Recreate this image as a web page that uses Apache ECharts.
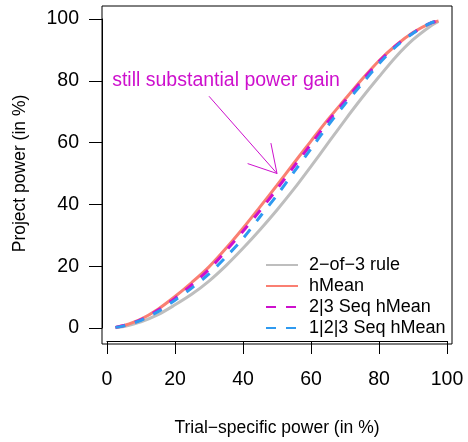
<!DOCTYPE html>
<html><head><meta charset="utf-8">
<script src="https://cdn.jsdelivr.net/npm/echarts@6/dist/echarts.min.js"></script>
<style>html,body{margin:0;padding:0;background:#fff}#c{width:468px;height:442px}</style>
</head><body><div id="c"></div>
<script>
const trialPower = [2.5, 5, 10, 15, 20, 25, 30, 35, 40, 45, 50, 55, 60, 65, 70, 75, 80, 85, 90, 95, 97.5];
const rule2of3   = [0.1, 0.5, 2.0, 4.3, 7.5, 11.0, 15.2, 20.2, 25.8, 31.8, 38.2, 45.0, 52.3, 59.8, 67.3, 74.5, 81.3, 87.8, 93.3, 97.6, 99.2];
const hMean      = [0.2, 0.8, 2.9, 6.1, 10.2, 14.8, 19.8, 25.8, 32.3, 39.2, 46.2, 53.4, 60.5, 67.5, 74.0, 80.5, 86.5, 91.5, 95.6, 98.6, 99.4];
const seq23      = [0.2, 0.8, 2.7, 5.8, 9.6, 14.0, 19.0, 25.0, 31.3, 38.0, 45.0, 52.3, 59.5, 66.8, 73.5, 80.0, 86.2, 91.4, 95.5, 98.6, 99.4];
const seq123     = [0.2, 0.7, 2.5, 5.3, 9.0, 13.0, 17.5, 23.0, 29.0, 36.0, 43.0, 50.5, 58.0, 65.5, 72.5, 79.0, 85.5, 91.1, 95.4, 98.6, 99.4];
const seriesNames = ['2\u2212of\u22123 rule', 'hMean', '2|3 Seq hMean', '1|2|3 Seq hMean'];
const xTicks = [0, 20, 40, 60, 80, 100];
const yTicks = [0, 20, 40, 60, 80, 100];
const xTitle = 'Trial\u2212specific power (in %)';
const yTitle = 'Project power (in %)';
const annotText = 'still substantial power gain';
const annotTextAt = [35, 80];
const arrowFrom = [30, 75];
const arrowTo = [50, 50];

const FONT = '"Liberation Sans", Arial, Helvetica, sans-serif';
const pairs = ys => trialPower.map((x, i) => [x, ys[i]]);

const chart = echarts.init(document.getElementById('c'), null, {renderer: 'canvas'});

function lineSeries(name, ys, color, dashed) {
  return {
    type: 'line', name, data: pairs(ys), xAxisIndex: 0, yAxisIndex: 0,
    smooth: 0.3, showSymbol: false, symbol: 'none', silent: true,
    lineStyle: {color, width: 3, type: dashed ? [10, 10] : 'solid', cap: 'butt'},
    itemStyle: {color}
  };
}

const axisCommon = {
  axisLine: {show: true, onZero: false, lineStyle: {color: '#000', width: 1}},
  axisTick: {show: true, length: 13, inside: false, lineStyle: {color: '#000', width: 1}},
  splitLine: {show: false}
};

const option = {
  animation: false,
  backgroundColor: '#fff',
  textStyle: {fontFamily: FONT},
  grid: [
    {left: 107, right: 21, top: 19, bottom: 111, containLabel: false},
    {left: 102, right: 16, top: 6, bottom: 98, show: true, borderColor: '#000', borderWidth: 1, backgroundColor: 'transparent', containLabel: false}
  ],
  xAxis: [
    Object.assign({type: 'value', gridIndex: 0, min: xTicks[0], max: xTicks[xTicks.length - 1], interval: 20,
     position: 'bottom', offset: 13,
     axisLabel: {show: true, margin: 29, color: '#000', fontSize: 19.5, fontFamily: FONT},
     name: xTitle, nameLocation: 'middle', nameGap: 78,
     nameTextStyle: {color: '#000', fontSize: 17.5, fontFamily: FONT}}, axisCommon),
    {type: 'value', gridIndex: 1, min: 0, max: 1, show: false}
  ],
  yAxis: [
    Object.assign({type: 'value', gridIndex: 0, min: yTicks[0], max: yTicks[yTicks.length - 1], interval: 20,
     position: 'left', offset: 5,
     axisLabel: {show: true, margin: 23, color: '#000', fontSize: 19.5, fontFamily: FONT},
     name: yTitle, nameLocation: 'middle', nameGap: 73, nameRotate: 90,
     nameTextStyle: {color: '#000', fontSize: 17.5, fontFamily: FONT}}, axisCommon),
    {type: 'value', gridIndex: 1, min: 0, max: 1, show: false}
  ],
  legend: {
    data: seriesNames, orient: 'vertical', left: 265, top: 256,
    itemWidth: 32, itemHeight: 14, itemGap: 3, padding: 0,
    itemStyle: {opacity: 0, color: 'rgba(0,0,0,0)', borderWidth: 0},
    textStyle: {color: '#000', fontSize: 18, lineHeight: 18, fontFamily: FONT, padding: [0, 0, 0, 6]},
    selectedMode: false
  },
  series: [
    lineSeries(seriesNames[0], rule2of3, '#BEBEBE', false),
    lineSeries(seriesNames[1], hMean, '#FA7F72', false),
    lineSeries(seriesNames[2], seq23, '#CD10CD', true),
    lineSeries(seriesNames[3], seq123, '#2E9AF0', true),
    {
      type: 'custom', xAxisIndex: 0, yAxisIndex: 0, silent: true, clip: false,
      data: [[arrowTo[0], arrowTo[1]]],
      renderItem: function (params, api) {
        const p0 = api.coord(arrowFrom), p1 = api.coord(arrowTo), pt = api.coord(annotTextAt);
        const ang = Math.atan2(p0[1] - p1[1], p0[0] - p1[0]);
        const L = 31, a = Math.PI / 6;
        const h1 = [p1[0] + L * Math.cos(ang + a), p1[1] + L * Math.sin(ang + a)];
        const h2 = [p1[0] + L * Math.cos(ang - a), p1[1] + L * Math.sin(ang - a)];
        const col = '#CD10CD';
        return {type: 'group', children: [
          {type: 'line', shape: {x1: p0[0], y1: p0[1], x2: p1[0], y2: p1[1]}, style: {stroke: col, lineWidth: 1}},
          {type: 'polyline', shape: {points: [h1, p1, h2]}, style: {stroke: col, lineWidth: 1, fill: null}},
          {type: 'text', x: pt[0], y: pt[1], style: {text: annotText, fill: col, fontSize: 19.5, fontFamily: FONT, align: 'center', verticalAlign: 'middle'}}
        ]};
      }
    }
  ]
};
chart.setOption(option);
</script></body></html>
